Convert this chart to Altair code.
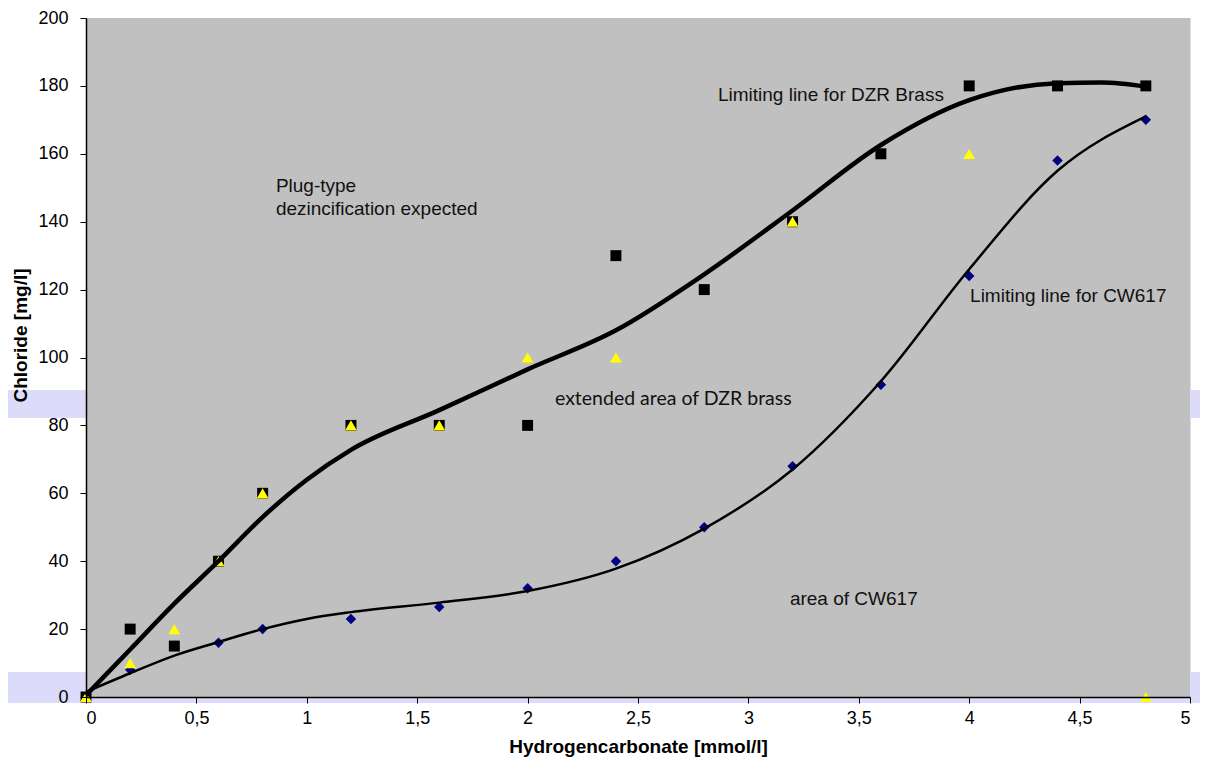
import altair as alt
import pandas as pd

# ---- data ----
sq_x = [0, 0.2, 0.4, 0.6, 0.8, 1.2, 1.6, 2.0, 2.4, 2.8, 3.2, 3.6, 4.0, 4.4, 4.8]
sq_y = [0, 20, 15, 40, 60, 80, 80, 80, 130, 120, 140, 160, 180, 180, 180]

tri_x = [0, 0.2, 0.4, 0.6, 0.8, 1.2, 1.6, 2.0, 2.4, 3.2, 4.0, 4.8]
tri_y = [0, 10, 20, 40, 60, 80, 80, 100, 100, 140, 160, 0]

dia_x = [0, 0.2, 0.6, 0.8, 1.2, 1.6, 2.0, 2.4, 2.8, 3.2, 3.6, 4.0, 4.4, 4.8]
dia_y = [0, 8, 16, 20, 23, 26.5, 32, 40, 50, 68, 92, 124, 158, 170]

dzr_x = [0, 0.2, 0.4, 0.6, 0.8, 1.0, 1.2, 1.6, 2.0, 2.4, 2.8, 3.2, 3.6, 4.0, 4.4, 4.6, 4.8]
dzr_y = [0.5, 14, 27.5, 40, 53, 64, 72.8, 84.5, 96.5, 108, 124.5, 143.3, 162.6, 175.8, 180.8, 181, 179.8]

cw_x = [0, 0.2, 0.4, 0.6, 0.8, 1.0, 1.2, 1.6, 2.0, 2.4, 2.8, 3.2, 3.6, 4.0, 4.4, 4.8]
cw_y = [1.5, 7.0, 12.2, 16.2, 20.0, 23.0, 25.0, 27.8, 31.2, 37.8, 49.6, 67.0, 93.0, 126.0, 155.0, 171.0]

x_ticks = [0, 0.5, 1, 1.5, 2, 2.5, 3, 3.5, 4, 4.5, 5]
y_ticks = [0, 20, 40, 60, 80, 100, 120, 140, 160, 180, 200]

arial_texts = ["Limiting line for DZR Brass", "Plug-type", "dezincification expected",
               "Limiting line for CW617", "area of CW617"]
arial_tx = [2.862, 0.86, 0.86, 4.004, 3.188]
arial_ty = [177.3, 150.5, 143.7, 118.1, 28.9]

calibri_texts = ["extended area of DZR brass"]
calibri_tx = [2.124]
calibri_ty = [87.8]

band_y = [82.2, -1.8]
band_y2 = [90.4, 7.4]

# ---- tables ----
sq = pd.DataFrame({"x": sq_x, "y": sq_y})
tri = pd.DataFrame({"x": tri_x, "y": tri_y})
dia = pd.DataFrame({"x": dia_x, "y": dia_y})
dzr = pd.DataFrame({"x": dzr_x, "y": dzr_y})
cw = pd.DataFrame({"x": cw_x, "y": cw_y})
lab_a = pd.DataFrame({"t": arial_texts, "x": arial_tx, "y": arial_ty})
lab_c = pd.DataFrame({"t": calibri_texts, "x": calibri_tx, "y": calibri_ty})
bands = pd.DataFrame({"x": [-0.5, -0.5], "x2": [5.2, 5.2], "y": band_y, "y2": band_y2})
area = pd.DataFrame({"x": [0], "x2": [5], "y": [0], "y2": [200]})

xs = alt.Scale(domain=[0, 5], nice=False, zero=False)
ys = alt.Scale(domain=[0, 200], nice=False, zero=False)

X = alt.X("x:Q", scale=xs, title="Hydrogencarbonate [mmol/l]",
          axis=alt.Axis(values=x_ticks, labelExpr="replace(datum.label, '.', ',')",
                        format="~g", grid=False, domainColor="black", domainWidth=1.5,
                        tickColor="black", tickSize=6, tickWidth=1, labelPadding=6,
                        labelFont="Liberation Sans", labelFontSize=18, labelColor="black",
                        titleFont="Liberation Sans", titleFontSize=19, titleFontWeight="bold",
                        titleColor="black", titleBaseline="middle", titleY=49, zindex=1))
Y = alt.Y("y:Q", scale=ys, title="Chloride [mg/l]",
          axis=alt.Axis(values=y_ticks, grid=False, domainColor="black", domainWidth=1.5,
                        tickColor="black", tickSize=6, tickWidth=1, labelPadding=12,
                        labelFont="Liberation Sans", labelFontSize=18, labelColor="black",
                        titleFont="Liberation Sans", titleFontSize=19, titleFontWeight="bold",
                        titleColor="black", titleBaseline="middle", titleAlign="center",
                        titleX=-66, titleY=317, zindex=1))

band_layer = alt.Chart(bands).mark_rect(color="#dcdcfa", clip=False).encode(
    x=alt.X("x:Q", scale=xs), x2="x2", y=alt.Y("y:Q", scale=ys), y2="y2")
area_layer = alt.Chart(area).mark_rect(color="#c0c0c0").encode(
    x=X, x2="x2", y=Y, y2="y2")

dia_layer = alt.Chart(dia).mark_point(shape="diamond", filled=True, color="#000080",
                                      size=110, opacity=1).encode(x="x:Q", y="y:Q")
sq_layer = alt.Chart(sq).mark_point(shape="square", filled=True, color="black",
                                    size=120, opacity=1).encode(x="x:Q", y="y:Q")
tri_layer = alt.Chart(tri).mark_point(shape="triangle-up", filled=True, color="#ffff00",
                                      size=140, opacity=1).encode(x="x:Q", y="y:Q")

dzr_line = alt.Chart(dzr).mark_line(color="black", strokeWidth=4.5,
                                    interpolate="monotone").encode(x="x:Q", y="y:Q")
cw_line = alt.Chart(cw).mark_line(color="black", strokeWidth=2.5,
                                  interpolate="monotone").encode(x="x:Q", y="y:Q")

text_a = alt.Chart(lab_a).mark_text(font="Liberation Sans", fontSize=19, color="#111111",
                                    align="left", baseline="middle").encode(
    x="x:Q", y="y:Q", text="t:N")
text_c = alt.Chart(lab_c).mark_text(font="Lato", fontSize=19.5, color="#111111",
                                    align="left", baseline="middle").encode(
    x="x:Q", y="y:Q", text="t:N")

chart = alt.layer(
    band_layer, area_layer, dia_layer, sq_layer, tri_layer, dzr_line, cw_line, text_a, text_c
).properties(
    width=1104, height=679,
    autosize=alt.AutoSizeParams(type="none"),
    padding={"left": 78, "top": 10, "right": 10, "bottom": 64},
).configure_view(
    stroke="#808080", strokeWidth=1
).configure(background="white")

chart.save("out.html", embed_options={"renderer": "svg", "actions": False})
